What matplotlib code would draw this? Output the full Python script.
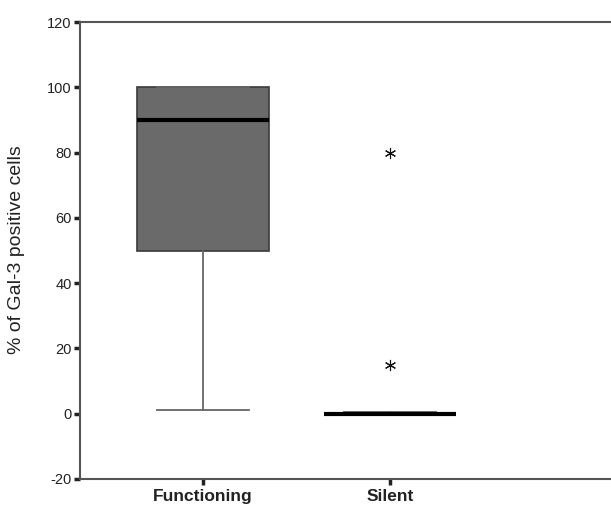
import matplotlib
matplotlib.use("Agg")
import matplotlib.pyplot as plt

categories = ["Functioning", "Silent"]
medians = [90, 0]
q1s = [50, 0]
q3s = [100, 0]
whis_lo = [1, 0]
whis_hi = [100, 0.6]
outliers = [[], [80, 15]]
yticks = [-20, 0, 20, 40, 60, 80, 100, 120]

plt.rcParams['font.family'] = ['Liberation Sans', 'DejaVu Sans']

W, H = 611, 508
fig = plt.figure(figsize=(W / 100, H / 100), dpi=100)
left, right, top, bottom = 80, 611, 22, 479
ax = fig.add_axes([left / W, 1 - bottom / H, (right - left) / W, (bottom - top) / H])

stats = []
for i, c in enumerate(categories):
    stats.append(dict(label=c, med=medians[i], q1=q1s[i], q3=q3s[i],
                      whislo=whis_lo[i], whishi=whis_hi[i], fliers=outliers[i]))

spine_col = "#555555"
ax.bxp(stats, positions=[1, 2], widths=0.706, patch_artist=True, showcaps=True,
       boxprops=dict(facecolor="#6a6a6a", edgecolor="#3a3a3a", linewidth=1.2),
       medianprops=dict(color="black", linewidth=3),
       whiskerprops=dict(color="#666666", linewidth=1.3),
       capprops=dict(color="#666666", linewidth=1.3),
       capwidths=0.49,
       flierprops=dict(marker=(6, 2, 0), markersize=8, markeredgecolor="#111111",
                       markerfacecolor="#111111", markeredgewidth=0.8, linestyle="none"))

ax.set_xlim(0.342, 3.18)
ax.set_ylim(-20, 120)
ax.set_yticks(yticks)
ax.set_yticklabels([str(t) for t in yticks], fontsize=10.5, color="#222222")
ax.set_xticks([1, 2])
ax.set_xticklabels(categories, fontsize=12.5, fontweight="bold", color="#222222")
ax.tick_params(axis="y", length=4, width=2.5, color="#222222", pad=2)
ax.tick_params(axis="x", length=4, width=2.5, color="#222222", pad=3)
ax.spines["right"].set_visible(False)
for s in ["left", "top", "bottom"]:
    ax.spines[s].set_color(spine_col)
    ax.spines[s].set_linewidth(1.5)
ax.set_ylabel("% of Gal-3 positive cells", fontsize=14, color="#222222")
ax.yaxis.set_label_coords(-0.103, (479 - 250) / 457)

fig.savefig("out.png", dpi=100)
